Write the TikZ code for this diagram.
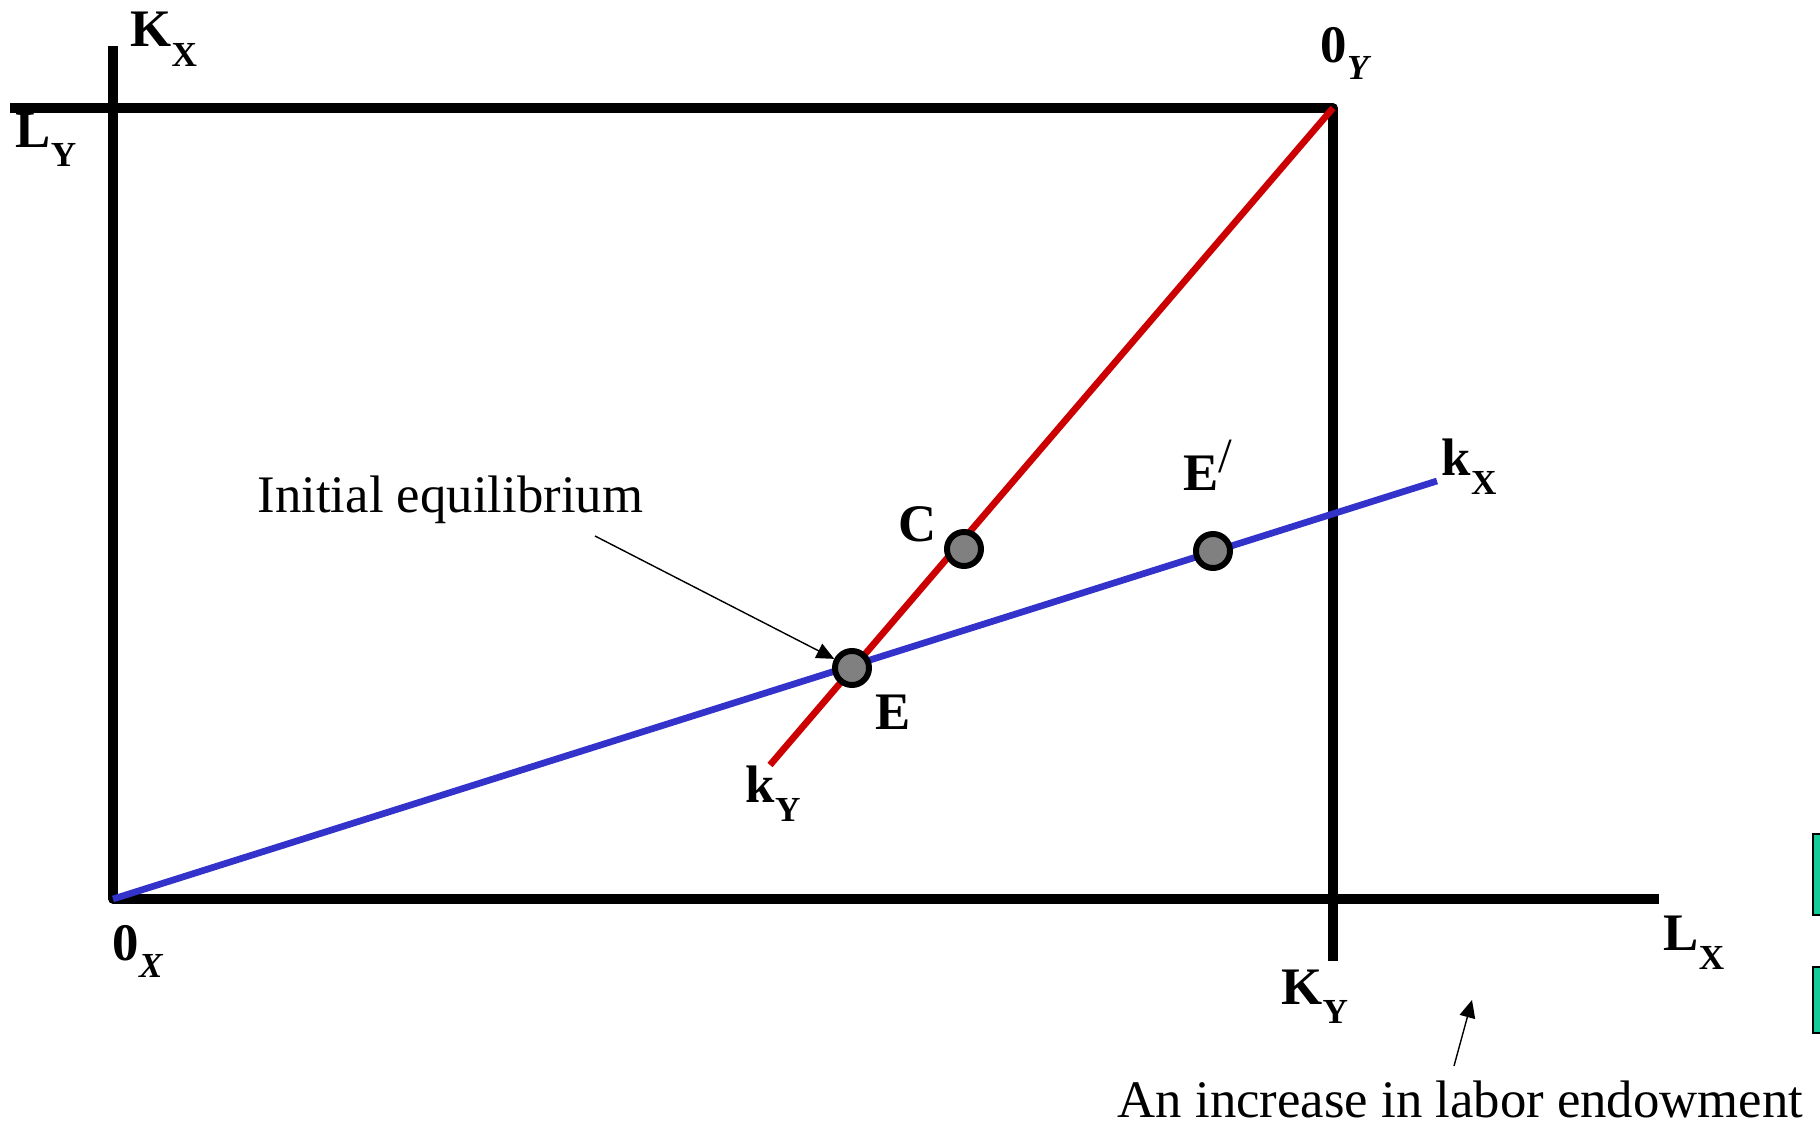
\documentclass[tikz,border=0pt]{standalone}
\usepackage{fontspec}
\setmainfont{Liberation Serif}
\usetikzlibrary{arrows.meta,positioning,calc}
\usepackage{xcolor}

\definecolor{kyRed}{RGB}{204,0,0}
\definecolor{kxBlue}{RGB}{51,51,204}
\definecolor{boxTeal}{RGB}{20,204,153}

\newcommand{\axlbl}[2]{\textbf{#1}\raisebox{-5.5pt}{\fontsize{10}{10}\selectfont\textbf{#2}}}
\newcommand{\orglbl}[1]{\textbf{0}\raisebox{-5pt}{\fontsize{10}{10}\selectfont\bfseries\itshape #1}}

\begin{document}
\begin{tikzpicture}[
    x=0.01cm, y=-0.01cm,
    axis/.style={line width=2.6pt, line join=round},
    ray/.style={line width=1.9pt},
    eqpt/.style={circle, draw, fill=gray, line width=1.7pt, minimum size=0.34cm, inner sep=0pt},
    lbl/.style={font=\fontsize{15}{15}\selectfont, anchor=base west, inner sep=0pt},
    note/.style={font=\fontsize{15}{15}\selectfont, anchor=base west, inner sep=0pt},
    arrow/.style={-{Triangle[length=5pt, width=4.5pt]}, line width=0.4pt}
]
\useasboundingbox (0,0) rectangle (1820,1127);
\clip (0,0) rectangle (1820,1127);

\coordinate (OX) at (113,899);
\coordinate (OY) at (1333,108);
\coordinate (kXend) at (1437,481);
\coordinate (kYend) at (770,765);

\draw[axis] (OX) rectangle (OY);
\draw[axis] (OX |- OY) -- (113,46);
\draw[axis] (OX |- OY) -- (10,108);
\draw[axis] (OX -| OY) -- (1333,961);
\draw[axis] (OX -| OY) -- (1659,899);

\draw[ray, kxBlue] (OX) -- (kXend);
\draw[ray, kyRed] (OY) -- (kYend);

\node[eqpt] (E) at (852,668) {};
\node[eqpt] (C) at (964,549) {};
\node[eqpt] (Ep) at (1213,551) {};

\node[lbl] (KX) at (130,47) {\axlbl{K}{X}};
\node[lbl] (LY) at (15,147) {\axlbl{L}{Y}};
\node[lbl] (zeroY) at (1320,62) {\orglbl{Y}};
\node[lbl] (zeroX) at (112,960) {\orglbl{X}};
\node[lbl] (KY) at (1281,1004) {\axlbl{K}{Y}};
\node[lbl] (LX) at (1663,950) {\axlbl{L}{X}};
\node[lbl] (kX) at (1441,475) {\axlbl{k}{X}};
\node[lbl] (kY) at (745,802) {\axlbl{k}{Y}};
\node[lbl] (Elbl) at (875,729) {\textbf{E}};
\node[lbl] (Clbl) at (898,541) {\textbf{C}};
\node[lbl] (Eplbl) at (1183,490) {\textbf{E}\raisebox{5pt}{\fontsize{14}{14}\selectfont /}};

\node[note] (init) at (257,512) {Initial equilibrium};
\node[note] (incr) at (1117,1117) {An increase in labor endowment};

\coordinate (initTail) at (595,536);
\draw[arrow] (initTail) -- (E);
\coordinate (incrTail) at (1454,1066);
\coordinate (incrTip) at (1472,1000);
\draw[arrow] (incrTail) -- (incrTip);

\draw[fill=boxTeal, line width=0.5pt] (1813,834) rectangle (1840,915);
\draw[fill=boxTeal, line width=0.5pt] (1813,967) rectangle (1840,1033);
\end{tikzpicture}
\end{document}
